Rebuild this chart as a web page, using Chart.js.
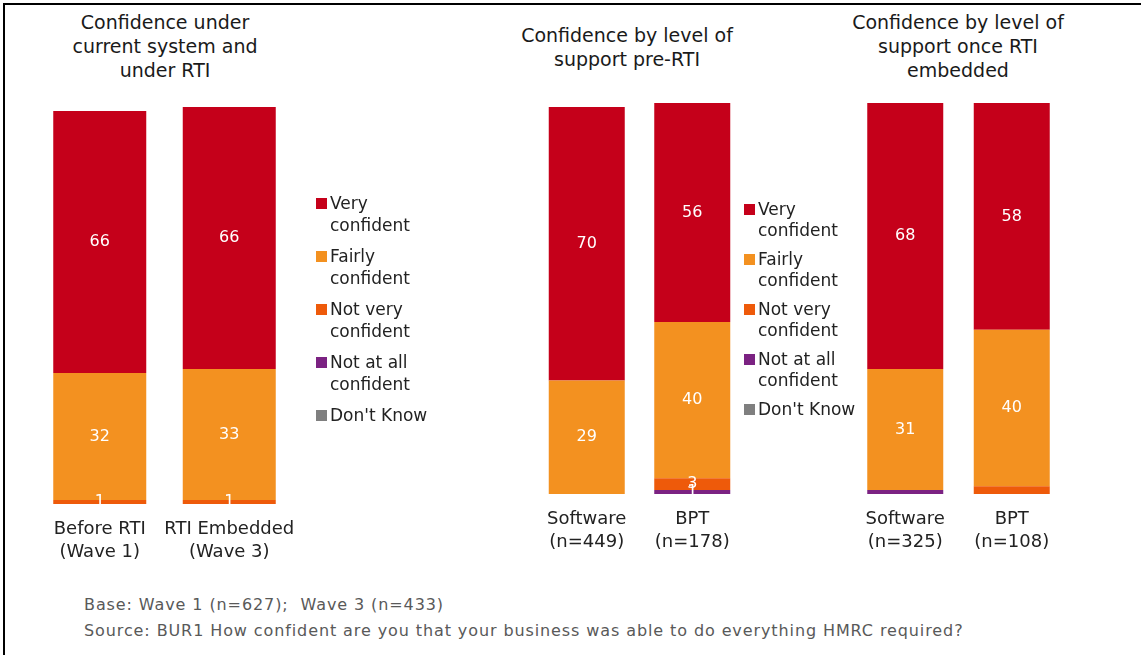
<!DOCTYPE html>
<html>
<head>
<meta charset="utf-8">
<script src="https://cdn.jsdelivr.net/npm/chart.js@4.4.0/dist/chart.umd.min.js"></script>
<style>
  body { margin: 0; width: 1141px; height: 655px; background: #fff; position: relative; overflow: hidden; font-family: "DejaVu Sans", sans-serif; }
  #frame { position: absolute; left: 3px; top: 3px; width: 1150px; height: 670px; border-left: 2px solid #000; border-top: 2px solid #000; }
  .title { position: absolute; text-align: center; font-size: 19px; line-height: 24px; color: #1a1a1a; white-space: nowrap; transform: translateX(-50%); }
  .legend { position: absolute; font-size: 17px; color: #222; }
  .legend .item { position: relative; padding-left: 14px; white-space: nowrap; }
  .legend .sw { position: absolute; left: 0; width: 11px; height: 11px; }
  canvas { position: absolute; }
  .foot { position: absolute; left: 84px; font-size: 16px; line-height: 20px; color: #595959; white-space: pre; letter-spacing: 0.9px; }
</style>
</head>
<body>
<div id="frame"></div>

<div class="title" style="left:165px; top:10px;">Confidence under<br>current system and<br>under RTI</div>
<div class="title" style="left:627px; top:23px;">Confidence by level of<br>support pre-RTI</div>
<div class="title" style="left:958px; top:10px;">Confidence by level of<br>support once RTI<br>embedded</div>

<canvas id="chart1"></canvas>
<canvas id="chart2"></canvas>
<canvas id="chart3"></canvas>

<div class="legend" id="legend1" style="left:316px; top:192px;"></div>
<div class="legend" id="legend2" style="left:744px; top:199px;"></div>

<div class="foot" style="top:595px;">Base: Wave 1 (n=627);  Wave 3 (n=433)</div>
<div class="foot" style="top:621px;">Source: BUR1 How confident are you that your business was able to do everything HMRC required?</div>

<script>
// Response categories, bottom of the stack first
const seriesNames = ["Don't Know", 'Not at all confident', 'Not very confident', 'Fairly confident', 'Very confident'];
const legendLines = [["Don't Know"], ['Not at all', 'confident'], ['Not very', 'confident'], ['Fairly', 'confident'], ['Very', 'confident']];
const seriesColors = ['#7f7f7f', '#7b2282', '#ee5a0a', '#f39120', '#c5001a'];

// Panel 1: current system vs RTI embedded
const labels1 = [['Before RTI', '(Wave 1)'], ['RTI Embedded', '(Wave 3)']];
const veryConfident1 = [66, 66];
const fairlyConfident1 = [32, 33];
const notVeryConfident1 = [1, 1];
const notAtAllConfident1 = [0, 0];
const dontKnow1 = [0, 0];

// Panel 2: level of support pre-RTI
const labels2 = [['Software', '(n=449)'], ['BPT', '(n=178)']];
const veryConfident2 = [70, 56];
const fairlyConfident2 = [29, 40];
const notVeryConfident2 = [0, 3];
const notAtAllConfident2 = [0, 1];
const dontKnow2 = [0, 0];

// Panel 3: level of support once RTI embedded
const labels3 = [['Software', '(n=325)'], ['BPT', '(n=108)']];
const veryConfident3 = [68, 58];
const fairlyConfident3 = [31, 40];
const notVeryConfident3 = [0, 2];
const notAtAllConfident3 = [1, 0];
const dontKnow3 = [0, 0];

// White value labels centred in each stacked segment
const segmentLabels = {
  id: 'segmentLabels',
  afterDatasetsDraw(chart, args, opts) {
    const ctx = chart.ctx;
    ctx.save();
    ctx.fillStyle = '#ffffff';
    ctx.font = '16px "DejaVu Sans"';
    ctx.textAlign = 'center';
    ctx.textBaseline = 'middle';
    chart.data.datasets.forEach((ds, i) => {
      chart.getDatasetMeta(i).data.forEach((bar, j) => {
        const v = ds.data[j];
        if (!v || v < opts.min) return;
        ctx.fillText(String(v), bar.x, (bar.y + bar.base) / 2);
      });
    });
    ctx.restore();
  }
};

function createPanel(id, labels, series, area) {
  const padX = 30, padTop = 10, axisHeight = 70;
  const canvas = document.getElementById(id);
  const w = area.width + padX * 2;
  const h = area.bottom - area.top + padTop + axisHeight;
  canvas.width = w;
  canvas.height = h;
  canvas.style.left = (area.left - padX) + 'px';
  canvas.style.top = (area.top - padTop) + 'px';
  canvas.style.width = w + 'px';
  canvas.style.height = h + 'px';

  return new Chart(canvas.getContext('2d'), {
    type: 'bar',
    data: {
      labels: labels,
      datasets: series.map((data, i) => ({
        label: seriesNames[i],
        data: data,
        backgroundColor: seriesColors[i],
        borderWidth: 0,
        inflateAmount: 0,
        barThickness: area.barWidth
      }))
    },
    options: {
      responsive: false,
      animation: false,
      layout: { padding: { left: padX, right: padX, top: padTop, bottom: 0 } },
      scales: {
        x: {
          stacked: true,
          grid: { display: false, drawTicks: false },
          border: { display: false },
          ticks: {
            color: '#222',
            padding: 14,
            maxRotation: 0,
            autoSkip: false,
            font: { family: 'DejaVu Sans', size: 18, lineHeight: 1.28 }
          },
          afterFit(scale) { scale.height = axisHeight; }
        },
        y: {
          stacked: true,
          display: false,
          min: 0,
          max: 100
        }
      },
      plugins: {
        legend: { display: false },
        tooltip: { enabled: false },
        segmentLabels: { min: area.minLabel }
      }
    },
    plugins: [segmentLabels]
  });
}

createPanel('chart1', labels1,
  [dontKnow1, notAtAllConfident1, notVeryConfident1, fairlyConfident1, veryConfident1],
  { left: 34.75, width: 259, top: 107, bottom: 504, barWidth: 93, minLabel: 1 });
createPanel('chart2', labels2,
  [dontKnow2, notAtAllConfident2, notVeryConfident2, fairlyConfident2, veryConfident2],
  { left: 534.25, width: 211, top: 103, bottom: 494, barWidth: 76, minLabel: 1 });
createPanel('chart3', labels3,
  [dontKnow3, notAtAllConfident3, notVeryConfident3, fairlyConfident3, veryConfident3],
  { left: 851.75, width: 213, top: 103, bottom: 494, barWidth: 76, minLabel: 5 });

// Legends, top entry first
function buildLegend(id, lineHeight, gap) {
  const el = document.getElementById(id);
  for (let i = seriesNames.length - 1; i >= 0; i--) {
    const item = document.createElement('div');
    item.className = 'item';
    item.style.lineHeight = lineHeight + 'px';
    item.style.marginBottom = gap + 'px';
    const sw = document.createElement('span');
    sw.className = 'sw';
    sw.style.background = seriesColors[i];
    sw.style.top = Math.round((lineHeight - 11) / 2) + 'px';
    item.appendChild(sw);
    item.insertAdjacentHTML('beforeend', legendLines[i].join('<br>'));
    el.appendChild(item);
  }
}
buildLegend('legend1', 22, 9);
buildLegend('legend2', 21, 8);
</script>
</body>
</html>
